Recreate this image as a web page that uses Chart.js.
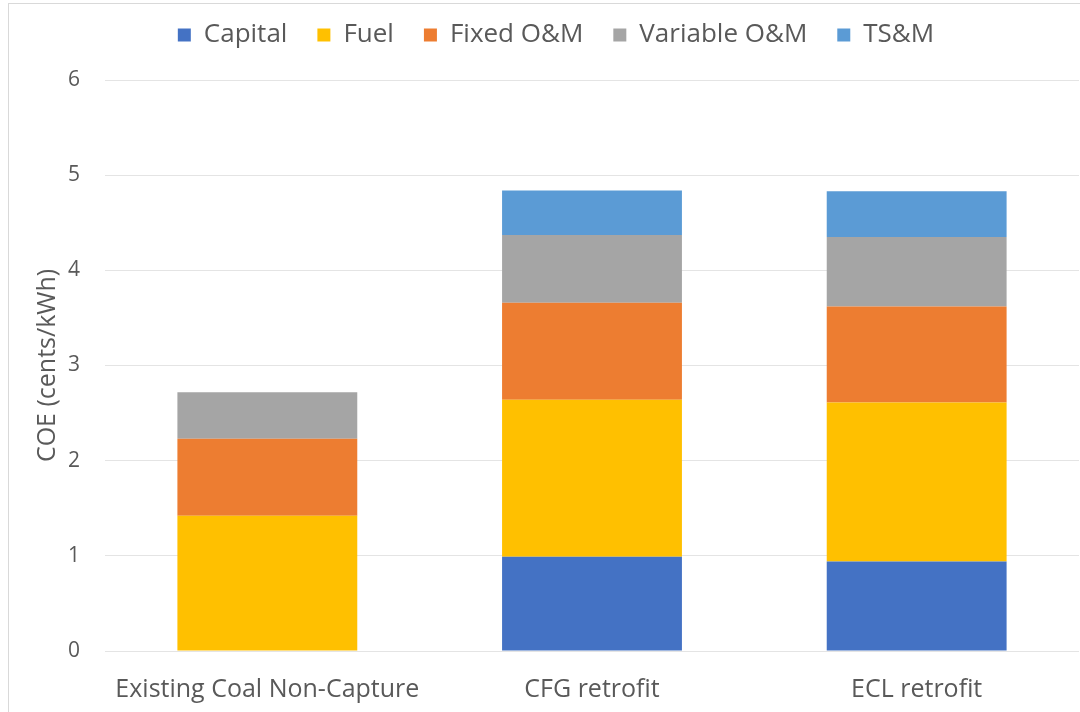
<!DOCTYPE html>
<html>
<head>
<meta charset="utf-8">
<script src="https://cdn.jsdelivr.net/npm/chart.js@4"></script>
<style>
  html, body { margin: 0; padding: 0; background: #fff; overflow: hidden; }
  #wrap { position: relative; width: 1080px; height: 712px; }
  #frame { position: absolute; left: 8px; top: 3px; width: 1200px; height: 800px;
           border-left: 1px solid #d9d9d9; border-top: 1px solid #d9d9d9; pointer-events: none; }
</style>
</head>
<body>
<div id="wrap">
  <canvas id="myChart" width="1080" height="712"></canvas>
  <div id="frame"></div>
</div>
<script>
// categories and series (cents/kWh)
var labels = ["Existing Coal Non-Capture", "CFG retrofit", "ECL retrofit"];
var capital = [0, 0.99, 0.94];
var fuel = [1.42, 1.65, 1.67];
var fixedOM = [0.81, 1.02, 1.01];
var variableOM = [0.49, 0.71, 0.73];
var tsm = [0, 0.47, 0.48];
var yTicks = [0, 1, 2, 3, 4, 5, 6];

var textColor = "#595959";
var fontFam = "'Open Sans', sans-serif";
var topPad = -8;

function ds(label, values, color) {
  return {
    label: label,
    data: values,
    backgroundColor: color,
    borderWidth: 0,
    categoryPercentage: 1,
    barPercentage: 0.554
  };
}

var data = {
  labels: labels,
  datasets: [
    ds("Capital", capital, "#4472C4"),
    ds("Fuel", fuel, "#FFC000"),
    ds("Fixed O&M", fixedOM, "#ED7D31"),
    ds("Variable O&M", variableOM, "#A5A5A5"),
    ds("TS&M", tsm, "#5B9BD5")
  ]
};

var myChart = new Chart(document.getElementById("myChart"), {
  type: "bar",
  data: data,
  options: {
    responsive: false,
    animation: false,
    layout: { padding: { left: 33, right: 1, top: topPad, bottom: 0 } },
    plugins: {
      legend: {
        position: "top",
        labels: {
          boxWidth: 13,
          boxHeight: 13,
          padding: 30,
          color: textColor,
          font: { family: fontFam, size: 26 }
        }
      },
      tooltip: { enabled: false }
    },
    scales: {
      x: {
        stacked: true,
        grid: { display: false },
        border: { display: false },
        ticks: { color: textColor, font: { family: fontFam, size: 25 }, padding: 16 },
        afterFit: function (scale) { scale.height = 61; }
      },
      y: {
        stacked: true,
        min: yTicks[0],
        max: yTicks[yTicks.length - 1],
        ticks: { stepSize: 1, color: textColor, font: { family: fontFam, size: 21 }, padding: 25 },
        grid: { color: "#e4e4e4", lineWidth: 1, drawTicks: false },
        border: { display: false },
        title: {
          display: true,
          text: "COE (cents/kWh)",
          color: textColor,
          font: { family: fontFam, size: 25 },
          padding: 0
        },
        afterFit: function (scale) { scale.width = 72; }
      }
    }
  }
});

// legend block ends where the plot area starts
var legendFit = myChart.legend.fit;
myChart.legend.fit = function () {
  legendFit.call(this);
  this.height = 80 - topPad;
};
myChart.update();
</script>
</body>
</html>
